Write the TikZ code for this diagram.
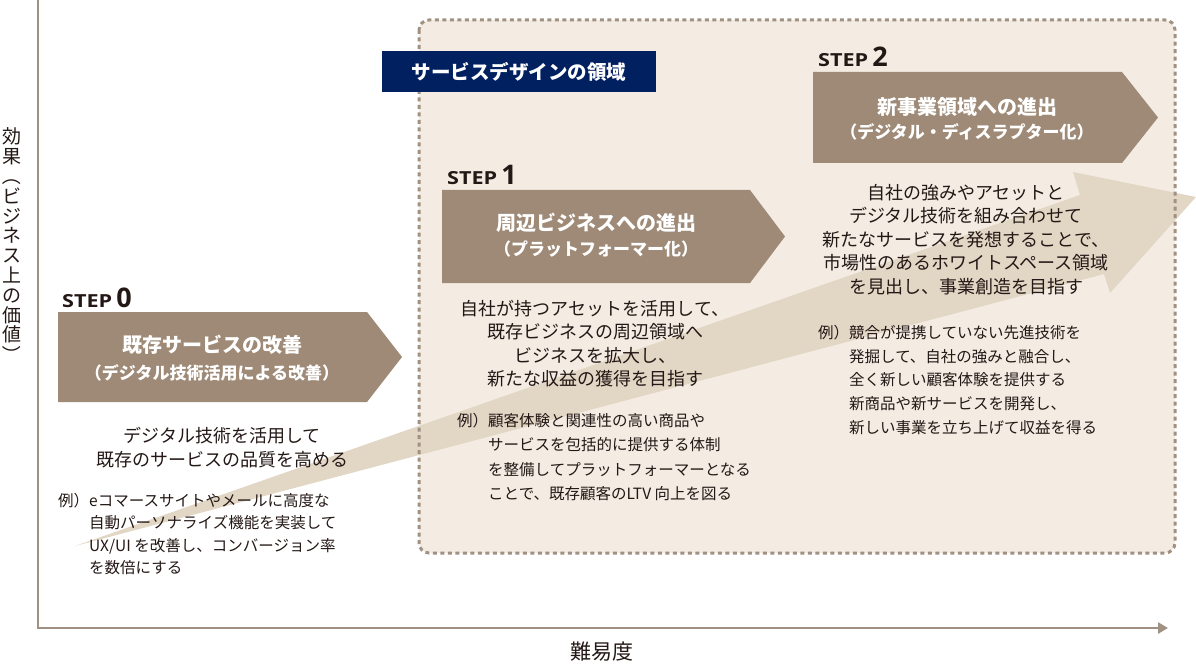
\documentclass[tikz,border=0pt]{standalone}
\usepackage{fontspec}
\setmainfont{Noto Sans CJK JP}
\newfontfamily\stepfont{Open Sans}
\usetikzlibrary{arrows.meta}
\definecolor{boxbrown}{RGB}{158,138,119}
\definecolor{creamfill}{RGB}{244,236,227}
\definecolor{bandcol}{RGB}{226,214,197}
\definecolor{axiscol}{RGB}{160,145,130}
\definecolor{navyblue}{RGB}{0,32,96}
\definecolor{inkcol}{RGB}{35,24,21}
\begin{document}
\begin{tikzpicture}[x=1pt,y=-1pt,
  stepshape/.style={fill=boxbrown},
  titleA/.style={text=white, font=\bfseries\fontsize{20}{24}\selectfont, inner sep=0pt},
  titleB/.style={text=white, font=\bfseries\fontsize{17}{20}\selectfont, inner sep=0pt},
  bodytext/.style={text=inkcol, font=\fontsize{18}{23.5}\selectfont, align=center, inner sep=0pt, anchor=north},
  example/.style={text=inkcol, align=left, inner sep=0pt, anchor=north west},
  steplabel/.style={anchor=base west, inner sep=0pt, text=inkcol, font=\stepfont\bfseries},
  axisline/.style={axiscol, line width=2.5pt}]
\useasboundingbox (0,0) rectangle (1196,671);
% service design region
\fill[creamfill, rounded corners=10pt] (419,20) rectangle (1175,553);
% big rising arrow
\coordinate (tail) at (75,546);
\coordinate (head) at (1196,197);
\fill[bandcol] (tail) -- (1080,195) -- (1073,172) -- (head) -- (1110,293) -- (1104,274) -- cycle;
\draw[axiscol, line width=3pt, dash pattern=on 4pt off 3.5pt, rounded corners=10pt] (419,20) rectangle (1175,553);
% axes
\coordinate (ytop) at (38,0);
\coordinate (origin) at (38,628);
\coordinate (xend) at (1168,628);
\draw[axisline, -{Triangle[length=10pt,width=11pt]}] (ytop) -- (origin) -- (xend);
\node[font=\fontsize{21}{21}\selectfont, text=inkcol] (xlab) at (602,652) {難易度};
\node[font=\fontsize{19}{19.8}\selectfont, text=inkcol, align=center, inner sep=0pt] (ylab) at (12,246)
  {効\\果\\\rotatebox[origin=c]{-90}{（}\\ビ\\ジ\\ネ\\ス\\上\\の\\価\\値\\\rotatebox[origin=c]{-90}{）}};
% label
\node[fill=navyblue, text=white, minimum width=274pt, minimum height=41pt, inner sep=0pt,
  font=\bfseries\fontsize{19.5}{20}\selectfont] (sdlabel) at (519,71.5) {サービスデザインの領域};
% step boxes
\fill[stepshape] (58,312) -- (367,312) -- (402,357) -- (367,402) -- (58,402) -- cycle;
\fill[stepshape] (442,190) -- (750,190) -- (785,236.5) -- (750,283) -- (442,283) -- cycle;
\fill[stepshape] (813,72) -- (1122,72) -- (1158,117.5) -- (1122,163) -- (813,163) -- cycle;
\node[titleA] (t0a) at (212,345) {既存サービスの改善};
\node[titleB] (t0b) at (212,373) {（デジタル技術活用による改善）};
\node[titleA] (t1a) at (596,223) {周辺ビジネスへの進出};
\node[titleB] (t1b) at (596,249) {（プラットフォーマー化）};
\node[titleA] (t2a) at (967,107) {新事業領域への進出};
\node[titleB] (t2b) at (967,132) {（デジタル・ディスラプター化）};
% step labels
\node[steplabel] (st0) at (62,307) {\scalebox{1.2}[1]{\fontsize{18}{18}\selectfont STEP}\hspace{4pt}{\fontsize{27}{27}\selectfont 0}};
\node[steplabel] (st1) at (447,185) {\scalebox{1.2}[1]{\fontsize{18}{18}\selectfont STEP}\hspace{4pt}{\fontsize{27}{27}\selectfont 1}};
\node[steplabel] (st2) at (818,67) {\scalebox{1.2}[1]{\fontsize{18}{18}\selectfont STEP}\hspace{4pt}{\fontsize{27}{27}\selectfont 2}};
% body texts
\node[bodytext] (b0) at (222,427) {デジタル技術を活用して\\既存のサービスの品質を高める};
\node[bodytext] (b1) at (595,300) {自社が持つアセットを活用して、\\既存ビジネスの周辺領域へ\\ビジネスを拡大し、\\新たな収益の獲得を目指す};
\node[bodytext] (b2) at (966,184) {自社の強みやアセットと\\デジタル技術を組み合わせて\\新たなサービスを発想することで、\\市場性のあるホワイトスペース領域\\を見出し、事業創造を目指す};
% examples
\node[example, font=\fontsize{15.5}{22.3}\selectfont] (e0) at (58,493)
  {例）eコマースサイトやメールに高度な\\\hphantom{例）}自動パーソナライズ機能を実装して\\\hphantom{例）}UX/UI を改善し、コンバージョン率\\\hphantom{例）}を数倍にする};
\node[example, font=\fontsize{15.5}{24.3}\selectfont] (e1) at (457,413)
  {例）顧客体験と関連性の高い商品や\\\hphantom{例）}サービスを包括的に提供する体制\\\hphantom{例）}を整備してプラットフォーマーとなる\\\hphantom{例）}ことで、既存顧客のLTV 向上を図る};
\node[example, font=\fontsize{15.5}{23.7}\selectfont] (e2) at (818,325)
  {例）競合が提携していない先進技術を\\\hphantom{例）}発掘して、自社の強みと融合し、\\\hphantom{例）}全く新しい顧客体験を提供する\\\hphantom{例）}新商品や新サービスを開発し、\\\hphantom{例）}新しい事業を立ち上げて収益を得る};
\end{tikzpicture}
\end{document}
